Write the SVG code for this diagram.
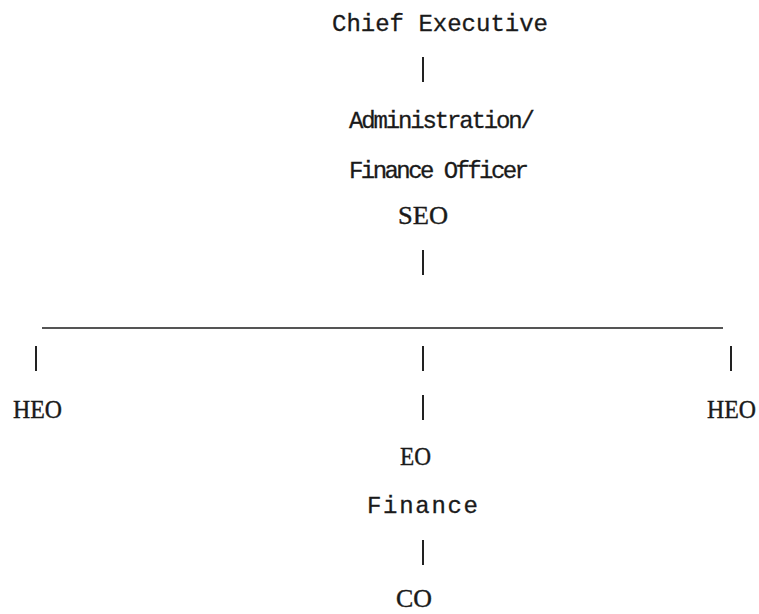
<svg xmlns="http://www.w3.org/2000/svg" width="759" height="614" viewBox="0 0 759 614">
  <style>
    .mono { font-family: "Liberation Mono", "DejaVu Sans Mono", monospace; font-size: 24px; fill: #1a1a1a; stroke: #1a1a1a; stroke-width: 0.3; }
    .serif { font-family: "Liberation Serif", "DejaVu Serif", serif; font-size: 26px; fill: #1a1a1a; stroke: #1a1a1a; stroke-width: 0.4; }
    .tick { stroke: #222; stroke-width: 2; }
    .rule { stroke: #555; stroke-width: 2; }
  </style>
  <rect width="759" height="614" fill="#ffffff"/>

  <!-- connectors -->
  <g id="connectors">
    <line class="tick" x1="423" y1="57" x2="423" y2="82"/>
    <line class="tick" x1="423" y1="250" x2="423" y2="275"/>
    <line class="rule" x1="42" y1="328" x2="723" y2="328"/>
    <line class="tick" x1="36" y1="346" x2="36" y2="371"/>
    <line class="tick" x1="423" y1="346" x2="423" y2="371"/>
    <line class="tick" x1="731" y1="346" x2="731" y2="371"/>
    <line class="tick" x1="423" y1="395" x2="423" y2="420"/>
    <line class="tick" x1="423" y1="540" x2="423" y2="565"/>
  </g>

  <!-- nodes -->
  <g id="chief-executive">
    <text class="mono" x="332" y="31" textLength="216" lengthAdjust="spacing">Chief Executive</text>
  </g>
  <g id="admin-finance-officer">
    <text class="mono" x="349" y="128" textLength="186" lengthAdjust="spacing">Administration/</text>
    <text class="mono" x="349" y="178" textLength="180" lengthAdjust="spacing">Finance Officer</text>
    <text class="serif" x="398" y="224" textLength="50" lengthAdjust="spacingAndGlyphs">SEO</text>
  </g>
  <g id="heo-left">
    <text class="serif" x="13" y="418" textLength="49" lengthAdjust="spacingAndGlyphs">HEO</text>
  </g>
  <g id="heo-right">
    <text class="serif" x="707" y="418" textLength="49" lengthAdjust="spacingAndGlyphs">HEO</text>
  </g>
  <g id="eo-finance">
    <text class="serif" x="400" y="465" textLength="31" lengthAdjust="spacingAndGlyphs">EO</text>
    <text class="mono" x="367" y="513" textLength="111" lengthAdjust="spacing">Finance</text>
  </g>
  <g id="co">
    <text class="serif" x="396" y="607" textLength="36" lengthAdjust="spacingAndGlyphs">CO</text>
  </g>
</svg>
